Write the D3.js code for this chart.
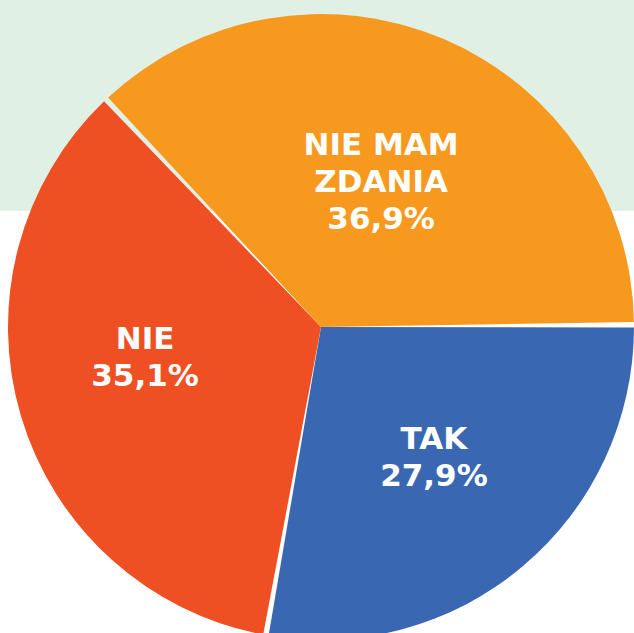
<!DOCTYPE html>
<html>
<head>
<meta charset="utf-8">
<script src="https://cdn.jsdelivr.net/npm/d3@7"></script>
<style>
  body { margin: 0; background: #fff; }
  svg { display: block; }
  .lbl { font-family: "DejaVu Sans", Verdana, sans-serif; font-weight: bold; fill: #fff; }
</style>
</head>
<body>
<div id="chart"></div>
<script>
// data
var categories = ["TAK", "NIE", "NIE MAM ZDANIA"];
var values = [27.9, 35.1, 36.9];
var labelLines = [["TAK", "27,9%"], ["NIE", "35,1%"], ["NIE MAM", "ZDANIA", "36,9%"]];
var colors = ["#3a67b1", "#ee5023", "#f7991e"];

var width = 634, height = 633;
var cx = 321, cy = 327, radius = 313;
var gap = 0.0175;          // angular gap between slices
var rot = -0.007;          // slight rotation of the whole pie
var lineH = 37, fontSize = 31;
// labels were moved by hand in the original, small nudges from the centroid
var labelNudge = [[6, 2], [-17, -18], [-5, 6]];

var svg = d3.select("#chart").append("svg")
    .attr("width", width)
    .attr("height", height);

// light green band behind top of the pie
svg.append("rect")
    .attr("x", 0).attr("y", 0)
    .attr("width", width).attr("height", 211)
    .attr("fill", "#e1f0e5");

var pie = d3.pie()
    .sort(null)
    .startAngle(Math.PI / 2 + rot)
    .endAngle(Math.PI * 2.5 + rot);

var arcs = pie(values).map(function(d) {
  return Object.assign({}, d, {
    startAngle: d.startAngle + gap / 2,
    endAngle: d.endAngle - gap / 2
  });
});

var arc = d3.arc().innerRadius(0).outerRadius(radius);
var labelArc = d3.arc().innerRadius(radius * 0.53).outerRadius(radius * 0.53);

var g = svg.append("g")
    .attr("transform", "translate(" + cx + "," + cy + ")");

g.selectAll("path")
    .data(arcs)
    .enter().append("path")
    .attr("d", arc)
    .attr("fill", function(d, i) { return colors[i]; });

var labels = g.selectAll("text")
    .data(arcs)
    .enter().append("text")
    .attr("class", "lbl")
    .attr("text-anchor", "middle")
    .style("font-size", fontSize + "px")
    .attr("transform", function(d, i) {
      var c = labelArc.centroid(d);
      return "translate(" + (c[0] + labelNudge[i][0]) + "," + (c[1] + labelNudge[i][1]) + ")";
    });

labels.each(function(d, i) {
  var lines = labelLines[i];
  var top = -(lines.length - 1) * lineH / 2 + fontSize * 0.365;
  d3.select(this).selectAll("tspan")
    .data(lines)
    .enter().append("tspan")
    .attr("x", 0)
    .attr("y", function(t, j) { return top + j * lineH; })
    .text(function(t) { return t; });
});
</script>
</body>
</html>
